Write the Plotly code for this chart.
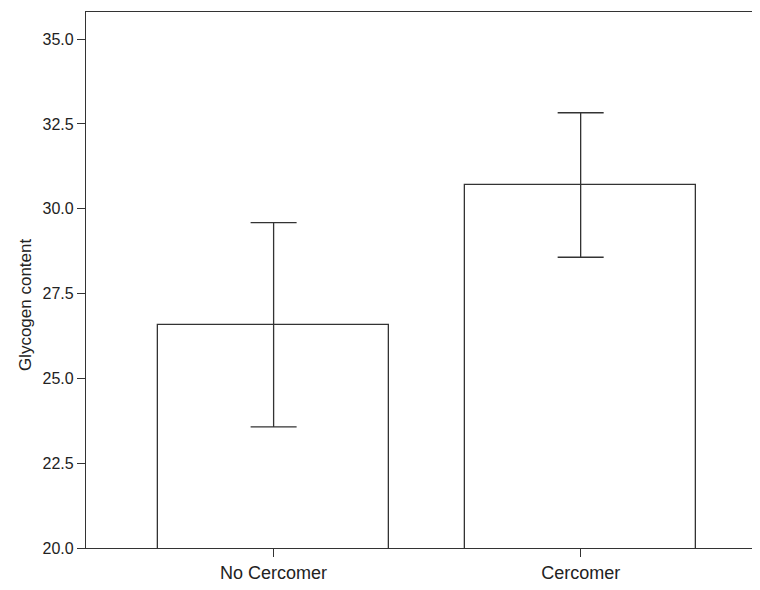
import plotly.graph_objects as go

categories = ["No Cercomer", "Cercomer"]
means = [26.58, 30.70]
errors = [3.01, 2.13]
y_tick_vals = [20.0, 22.5, 25.0, 27.5, 30.0, 32.5, 35.0]
y_tick_text = ["20.0", "22.5", "25.0", "27.5", "30.0", "32.5", "35.0"]
y_title = "Glycogen content"

line_col = "#333333"
font_fam = "Liberation Sans, Arial, Helvetica, sans-serif"

fig = go.Figure()
fig.add_trace(go.Bar(
    x=[0, 1],
    y=means,
    width=0.751,
    marker=dict(color="white", line=dict(color=line_col, width=1.3)),
    error_y=dict(type="data", array=errors, visible=True,
                 color=line_col, thickness=1.3, width=23),
    showlegend=False,
))

fig.add_annotation(
    text=y_title, textangle=-90,
    xref="paper", yref="paper", x=-0.0916, y=0.455,
    xanchor="center", yanchor="middle", showarrow=False,
    font=dict(size=17, color="#222222"),
)

fig.update_layout(
    width=744, height=574,
    margin=dict(l=78, r=0, t=4, b=34, pad=0, autoexpand=False),
    paper_bgcolor="white", plot_bgcolor="white",
    font=dict(family=font_fam, size=17, color="#222222"),
    bargap=0,
    xaxis=dict(
        range=[-0.611, 1.558],
        tickmode="array", tickvals=[0, 1], ticktext=categories,
        showline=True, linecolor=line_col, linewidth=1.3, mirror=True,
        ticks="outside", ticklen=8, tickwidth=1.3, tickcolor=line_col,
        showgrid=False, zeroline=False,
        tickfont=dict(size=18),
    ),
    yaxis=dict(
        range=[20, 35.8],
        tickmode="array", tickvals=y_tick_vals, ticktext=y_tick_text,
        showline=True, linecolor=line_col, linewidth=1.3, mirror=False,
        ticks="outside", ticklen=8, tickwidth=1.3, tickcolor=line_col,
        showgrid=False, zeroline=False,
        tickfont=dict(size=16),
    ),
)

fig.write_html("out.html")
